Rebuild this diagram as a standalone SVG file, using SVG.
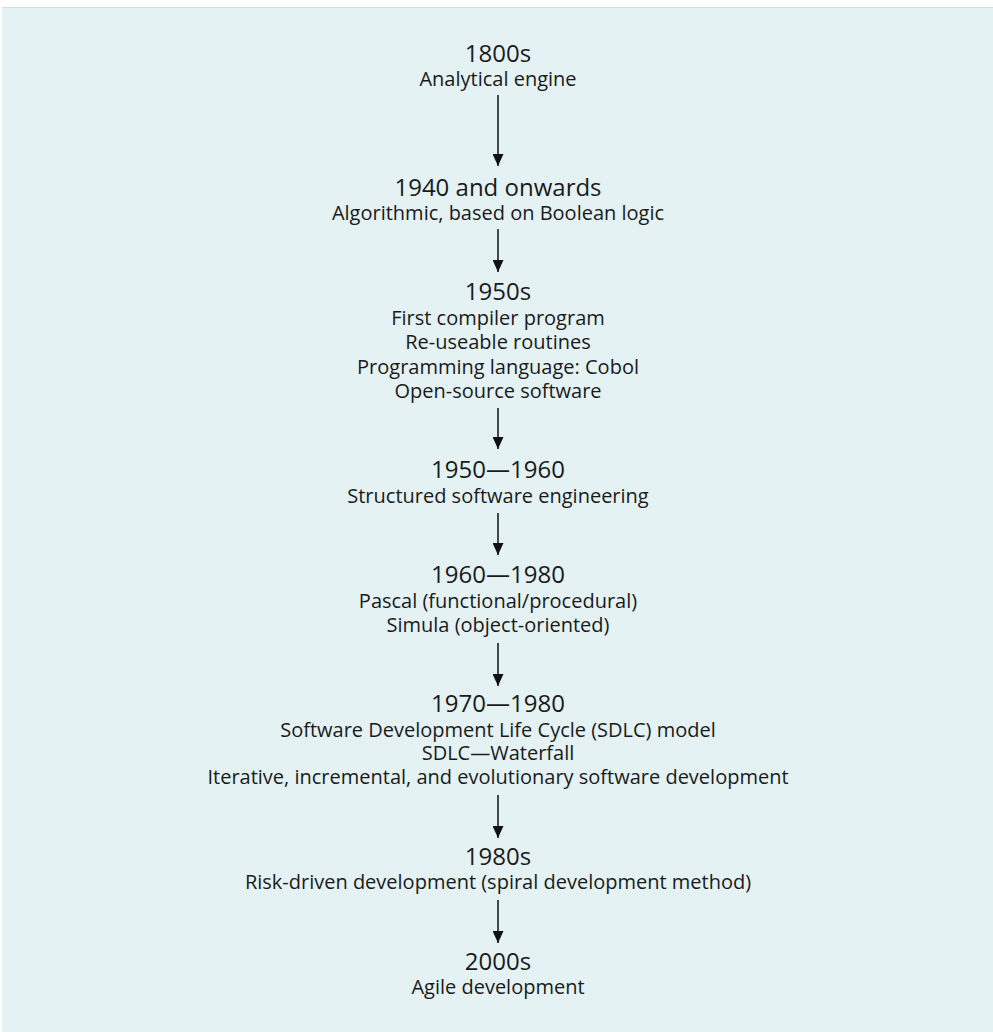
<svg xmlns="http://www.w3.org/2000/svg" width="993" height="1032" viewBox="0 0 993 1032">
  <style>
    text { font-family: "Open Sans", "Noto Sans", "Liberation Sans", sans-serif; fill: #1a1a1a; text-anchor: middle; }
    .yr { font-size: 24px; }
    .tx { font-size: 20px; }
    .conn line { stroke: #111; stroke-width: 1.5; }
  </style>
  <defs>
    <marker id="arrow" viewBox="0 0 12 11" refX="12" refY="5.5" markerWidth="12" markerHeight="11" markerUnits="userSpaceOnUse" orient="auto">
      <path d="M0,0 L12,5.5 L0,11 Z" fill="#111"/>
    </marker>
  </defs>
  <rect x="0" y="0" width="993" height="1032" fill="#ffffff"/>
  <rect x="2" y="7" width="991" height="1025" fill="#e4f2f4"/>
  <line x1="2" y1="7.5" x2="993" y2="7.5" stroke="#c8e3e7" stroke-width="1"/>

  <g class="conn">
    <line x1="498" y1="95" x2="498" y2="166" marker-end="url(#arrow)"/>
    <line x1="498" y1="229" x2="498" y2="272" marker-end="url(#arrow)"/>
    <line x1="498" y1="408" x2="498" y2="449" marker-end="url(#arrow)"/>
    <line x1="498" y1="513" x2="498" y2="555" marker-end="url(#arrow)"/>
    <line x1="498" y1="643" x2="498" y2="686" marker-end="url(#arrow)"/>
    <line x1="498" y1="795" x2="498" y2="838" marker-end="url(#arrow)"/>
    <line x1="498" y1="900" x2="498" y2="943" marker-end="url(#arrow)"/>
  </g>

  <g id="node-1800s">
    <text class="yr" x="498" y="62">1800s</text>
    <text class="tx" x="498" y="86">Analytical engine</text>
  </g>
  <g id="node-1940">
    <text class="yr" x="498" y="196">1940 and onwards</text>
    <text class="tx" x="498" y="220">Algorithmic, based on Boolean logic</text>
  </g>
  <g id="node-1950s">
    <text class="yr" x="498" y="300">1950s</text>
    <text class="tx" x="498" y="325">First compiler program</text>
    <text class="tx" x="498" y="349">Re-useable routines</text>
    <text class="tx" x="498" y="374">Programming language: Cobol</text>
    <text class="tx" x="498" y="398">Open-source software</text>
  </g>
  <g id="node-1950-1960">
    <text class="yr" x="498" y="478">1950—1960</text>
    <text class="tx" x="498" y="503">Structured software engineering</text>
  </g>
  <g id="node-1960-1980">
    <text class="yr" x="498" y="583">1960—1980</text>
    <text class="tx" x="498" y="608">Pascal (functional/procedural)</text>
    <text class="tx" x="498" y="632">Simula (object-oriented)</text>
  </g>
  <g id="node-1970-1980">
    <text class="yr" x="498" y="712">1970—1980</text>
    <text class="tx" x="498" y="737">Software Development Life Cycle (SDLC) model</text>
    <text class="tx" x="498" y="760">SDLC—Waterfall</text>
    <text class="tx" x="498" y="784">Iterative, incremental, and evolutionary software development</text>
  </g>
  <g id="node-1980s">
    <text class="yr" x="498" y="865">1980s</text>
    <text class="tx" x="498" y="889">Risk-driven development (spiral development method)</text>
  </g>
  <g id="node-2000s">
    <text class="yr" x="498" y="970">2000s</text>
    <text class="tx" x="498" y="994">Agile development</text>
  </g>
</svg>
